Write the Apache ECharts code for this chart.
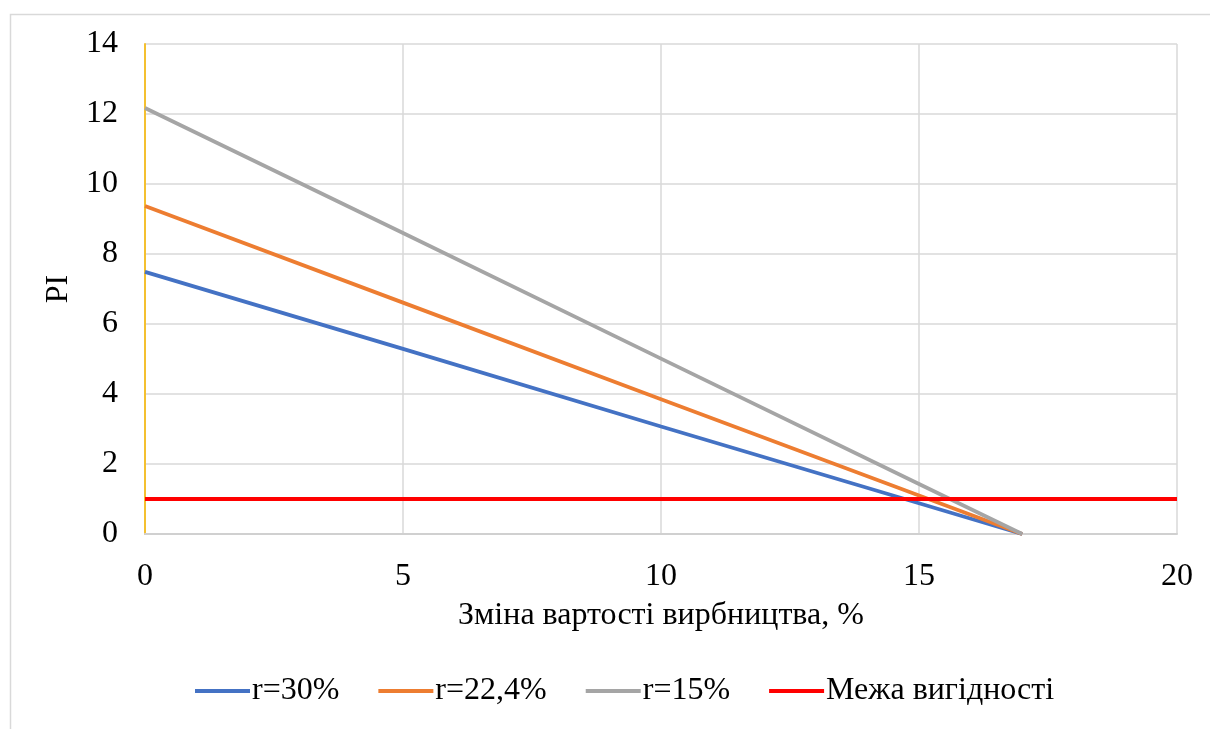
<!DOCTYPE html>
<html><head><meta charset="utf-8">
<script src="https://cdn.jsdelivr.net/npm/echarts@6/dist/echarts.min.js"></script>
<style>html,body{margin:0;padding:0;background:#fff}#c{width:1210px;height:729px}</style>
</head><body><div id="c"></div>
<script>
const xTicks = [0, 5, 10, 15, 20];
const xPoints = [0, 5, 10, 15, 17];
const r30 = [7.49, 5.29, 3.07, 0.88, 0];
const r224 = [9.37, 6.61, 3.85, 1.10, 0];
const r15 = [12.17, 8.60, 5.01, 1.43, 0];
const limitX = [0, 20];
const limitY = [1, 1];
const names = ['r=30%', 'r=22,4%', 'r=15%', 'Межа вигідності'];
const colors = ['#4472C4', '#ED7D31', '#A5A5A5', '#FF0000'];

const font = "'Liberation Serif', 'Times New Roman', serif";
const fs = 32;
const pair = (xs, ys) => xs.map((x, i) => [x, ys[i]]);
const chart = echarts.init(document.getElementById('c'));
chart.setOption({
  animation: false,
  textStyle: { fontFamily: font },
  graphic: [{ type: 'rect', left: 8, top: 12, shape: { width: 1400, height: 900 }, style: { fill: 'none', stroke: '#d9d9d9', lineWidth: 1.5 }, silent: true }],
  grid: { left: 145, right: 33, top: 44, bottom: 195 },
  xAxis: {
    type: 'value', min: 0, max: 20, interval: 5,
    name: 'Зміна вартості вирбництва, %', nameLocation: 'middle', nameGap: 66,
    nameTextStyle: { fontFamily: font, fontSize: fs, color: '#000' },
    axisLine: { show: true, lineStyle: { color: '#d0d0d0', width: 2 } },
    axisTick: { show: false },
    axisLabel: { fontFamily: font, fontSize: fs, color: '#000', margin: 27 },
    splitLine: { show: true, lineStyle: { color: '#d9d9d9', width: 1.5 } }
  },
  yAxis: {
    type: 'value', min: 0, max: 14, interval: 2,
    name: 'PI', nameLocation: 'middle', nameGap: 70, nameRotate: 90,
    nameTextStyle: { fontFamily: font, fontSize: fs, color: '#000' },
    axisLine: { show: true, lineStyle: { color: '#F4C030', width: 2 } },
    axisTick: { show: false },
    axisLabel: { fontFamily: font, fontSize: fs, color: '#000', margin: 27 },
    splitLine: { show: true, lineStyle: { color: '#d9d9d9', width: 1.5 } }
  },
  legend: {
    bottom: 17, left: 190, icon: 'rect', itemWidth: 55, itemHeight: 4, itemGap: 39,
    textStyle: { fontFamily: font, fontSize: fs, color: '#000', padding: [0, 0, 0, -3] },
    data: names
  },
  series: [
    { name: names[0], type: 'line', data: pair(xPoints, r30), showSymbol: false, color: colors[0], lineStyle: { width: 3.8 } },
    { name: names[1], type: 'line', data: pair(xPoints, r224), showSymbol: false, color: colors[1], lineStyle: { width: 3.8 } },
    { name: names[2], type: 'line', data: pair(xPoints, r15), showSymbol: false, color: colors[2], lineStyle: { width: 3.8 } },
    { name: names[3], type: 'line', data: pair(limitX, limitY), showSymbol: false, color: colors[3], lineStyle: { width: 3.8 } }
  ]
});
</script></body></html>
